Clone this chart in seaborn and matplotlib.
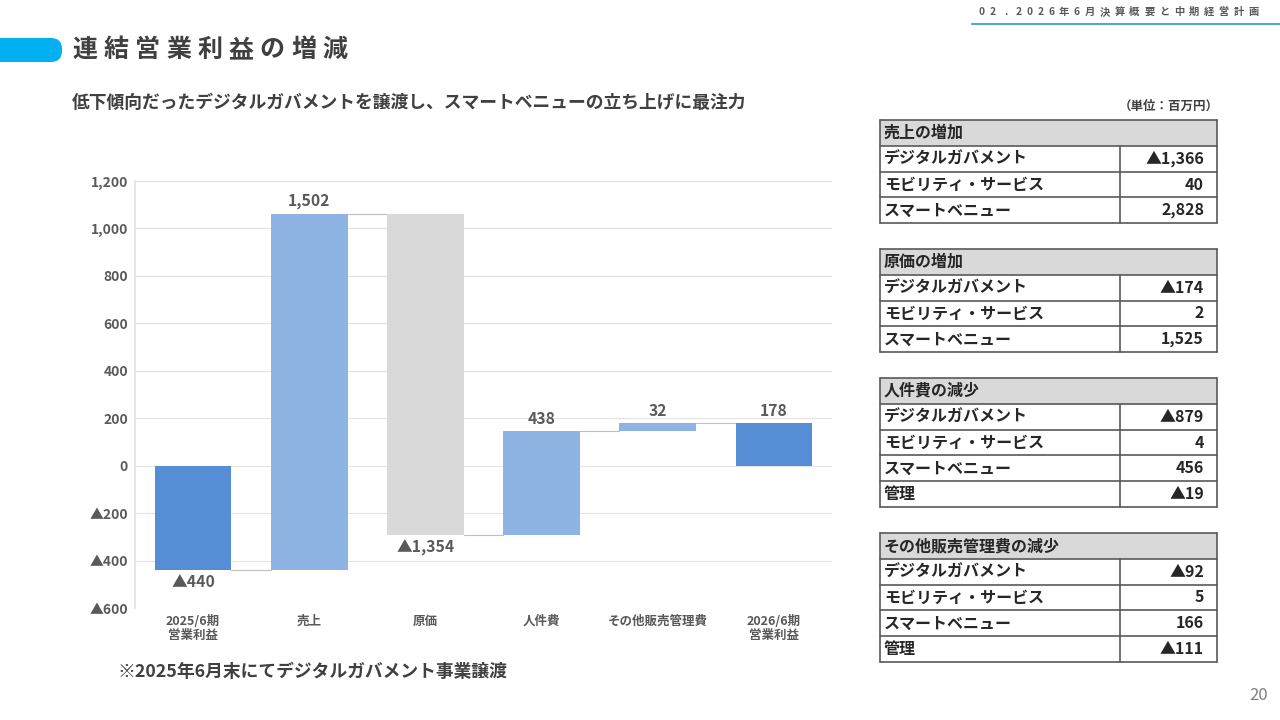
import unicodedata
import numpy as np
import pandas as pd
import seaborn as sns
import matplotlib.pyplot as plt
from matplotlib.patches import Rectangle, FancyBboxPatch

# Data
steps = ["2025/6期\n営業利益", "売上", "原価", "人件費", "その他販売管理費", "2026/6期\n営業利益"]
deltas = [-440, 1502, -1354, 438, 32, 178]
kinds = ["total", "up", "down", "up", "up", "total"]

yticks = [-600, -400, -200, 0, 200, 400, 600, 800, 1000, 1200]

table_titles = ["売上の増加", "原価の増加", "人件費の減少", "その他販売管理費の減少"]
table_rows = [
    ["デジタルガバメント", "モビリティ・サービス", "スマートベニュー"],
    ["デジタルガバメント", "モビリティ・サービス", "スマートベニュー"],
    ["デジタルガバメント", "モビリティ・サービス", "スマートベニュー", "管理"],
    ["デジタルガバメント", "モビリティ・サービス", "スマートベニュー", "管理"],
]
table_values = [
    [-1366, 40, 2828],
    [-174, 2, 1525],
    [-879, 4, 456, -19],
    [-92, 5, 166, -111],
]

sns.set_theme(style="white")
plt.rcParams['font.family'] = ['Noto Sans CJK JP', 'DejaVu Sans']
plt.rcParams['font.weight'] = 'bold'

DARK = "#404040"
GREY = "#595959"


def fmt(v):
    return ("▲" if v < 0 else "") + f"{abs(v):,}"


# waterfall bottoms
bottoms = []
level = 0
for d, k in zip(deltas, kinds):
    if k == "total":
        bottoms.append(0)
        level = d
    else:
        bottoms.append(level)
        level = level + d
df = pd.DataFrame({"step": steps, "delta": deltas, "bottom": bottoms, "kind": kinds})
df["top"] = df["bottom"] + df["delta"]

fig = plt.figure(figsize=(12.8, 7.2), dpi=100)

# page layer in pixel coordinates
bg = fig.add_axes([0, 0, 1, 1])
bg.set_xlim(0, 1280)
bg.set_ylim(720, 0)
bg.axis("off")

bg.add_patch(FancyBboxPatch((-20, 38), 82, 24, boxstyle="round,pad=0,rounding_size=11",
                            facecolor="#00B0F0", edgecolor="none"))
title = "連結営業利益の増減"
for i, ch in enumerate(title):
    bg.text(72 + i * 31.3, 50, ch, fontsize=18, color=DARK, va="center", ha="left")

# letter-spaced header
header = "02.2026年6月決算概要と中期経営計画"
em, gap = 8.9, 6.0
hx = None
prev_w = 0
for ch in header:
    w = em if (unicodedata.east_asian_width(ch) in "WF" or ch == ".") else 0.55 * em
    hx = 981.7 if hx is None else hx + prev_w / 2 + gap + w / 2
    bg.text(hx, 12, ch, fontsize=7.4, color=GREY, va="center", ha="center")
    prev_w = w
bg.plot([972, 1280], [24, 24], color="#4BACC6", lw=1.5)

bg.text(72, 103, "低下傾向だったデジタルガバメントを譲渡し、スマートベニューの立ち上げに最注力",
        fontsize=12.8, color=DARK, va="center")
bg.text(118, 672, "※2025年6月末にてデジタルガバメント事業譲渡", fontsize=12.8, color=DARK, va="center")
bg.text(1268, 695, "20", fontsize=12, color="#7F7F7F", va="center", ha="right", fontweight="normal")
bg.text(1219, 106, "（単位：百万円）", fontsize=9, color=DARK, va="center", ha="right")

# tables
tx0, tx1, tdiv, rh = 880, 1217, 1120, 25.8
tops = [120, 249, 378, 533]
for t, top in enumerate(tops):
    n = len(table_rows[t])
    bottom = top + (n + 1) * rh
    bg.add_patch(Rectangle((tx0, top), tx1 - tx0, rh, facecolor="#D9D9D9", edgecolor="none"))
    bg.text(tx0 + 4, top + rh / 2, table_titles[t], fontsize=11.5, color="#262626", va="center")
    for r in range(n + 2):
        bg.plot([tx0, tx1], [top + r * rh, top + r * rh], color=GREY, lw=1.2)
    bg.plot([tx0, tx0], [top, bottom], color=GREY, lw=1.2)
    bg.plot([tx1, tx1], [top, bottom], color=GREY, lw=1.2)
    bg.plot([tdiv, tdiv], [top + rh, bottom], color=GREY, lw=1.2)
    for r, (lab, val) in enumerate(zip(table_rows[t], table_values[t])):
        yc = top + (r + 1.5) * rh
        bg.text(tx0 + 4, yc, lab, fontsize=11.5, color="#262626", va="center")
        bg.text(tx1 - 13, yc, fmt(val), fontsize=11.5, color="#262626", va="center", ha="right")

# waterfall chart
ax = fig.add_axes([135 / 1280, 1 - 608 / 720, 697 / 1280, 427 / 720])
sns.barplot(data=df, x="step", y="delta", bottom=df["bottom"].to_numpy(), width=0.66,
            ax=ax, color="#8EB4E3", saturation=1)
colors = {"total": "#558ED5", "up": "#8EB4E3", "down": "#D9D9D9"}
for p, k in zip(ax.patches, kinds):
    p.set_facecolor(colors[k])
    p.set_edgecolor("none")
    p.set_zorder(3)

# connectors
for i in range(len(df) - 1):
    lvl = df["top"][i]
    ax.plot([i + 0.33, i + 1 - 0.33], [lvl, lvl], color="#BFBFBF", lw=0.8, zorder=2)

# labels
for i, row in df.iterrows():
    if row["delta"] >= 0:
        ax.text(i, row["top"] + 18, fmt(row["delta"]), ha="center", va="bottom",
                fontsize=11.3, color=GREY)
    else:
        y = min(row["top"], row["bottom"])
        ax.text(i, y - 18, fmt(row["delta"]), ha="center", va="top", fontsize=11.3, color=GREY)

ax.set_xlim(-0.5, len(steps) - 0.5)
ax.set_ylim(-600, 1200)
ax.set_yticks(yticks)
ax.set_yticklabels([fmt(v) for v in yticks], fontsize=10, color=GREY)
ax.set_xticks(range(len(steps)))
ax.set_xticklabels(steps, fontsize=9, color=GREY, linespacing=1.15)
ax.set_xlabel("")
ax.set_ylabel("")
ax.grid(axis="y", color="#E3E3E3", lw=0.8, zorder=0)
ax.set_axisbelow(True)
for s in ["top", "right", "bottom"]:
    ax.spines[s].set_visible(False)
ax.spines["left"].set_color("#E3E3E3")
ax.tick_params(axis="both", length=0, pad=5)

fig.savefig("out.png", dpi=100)
